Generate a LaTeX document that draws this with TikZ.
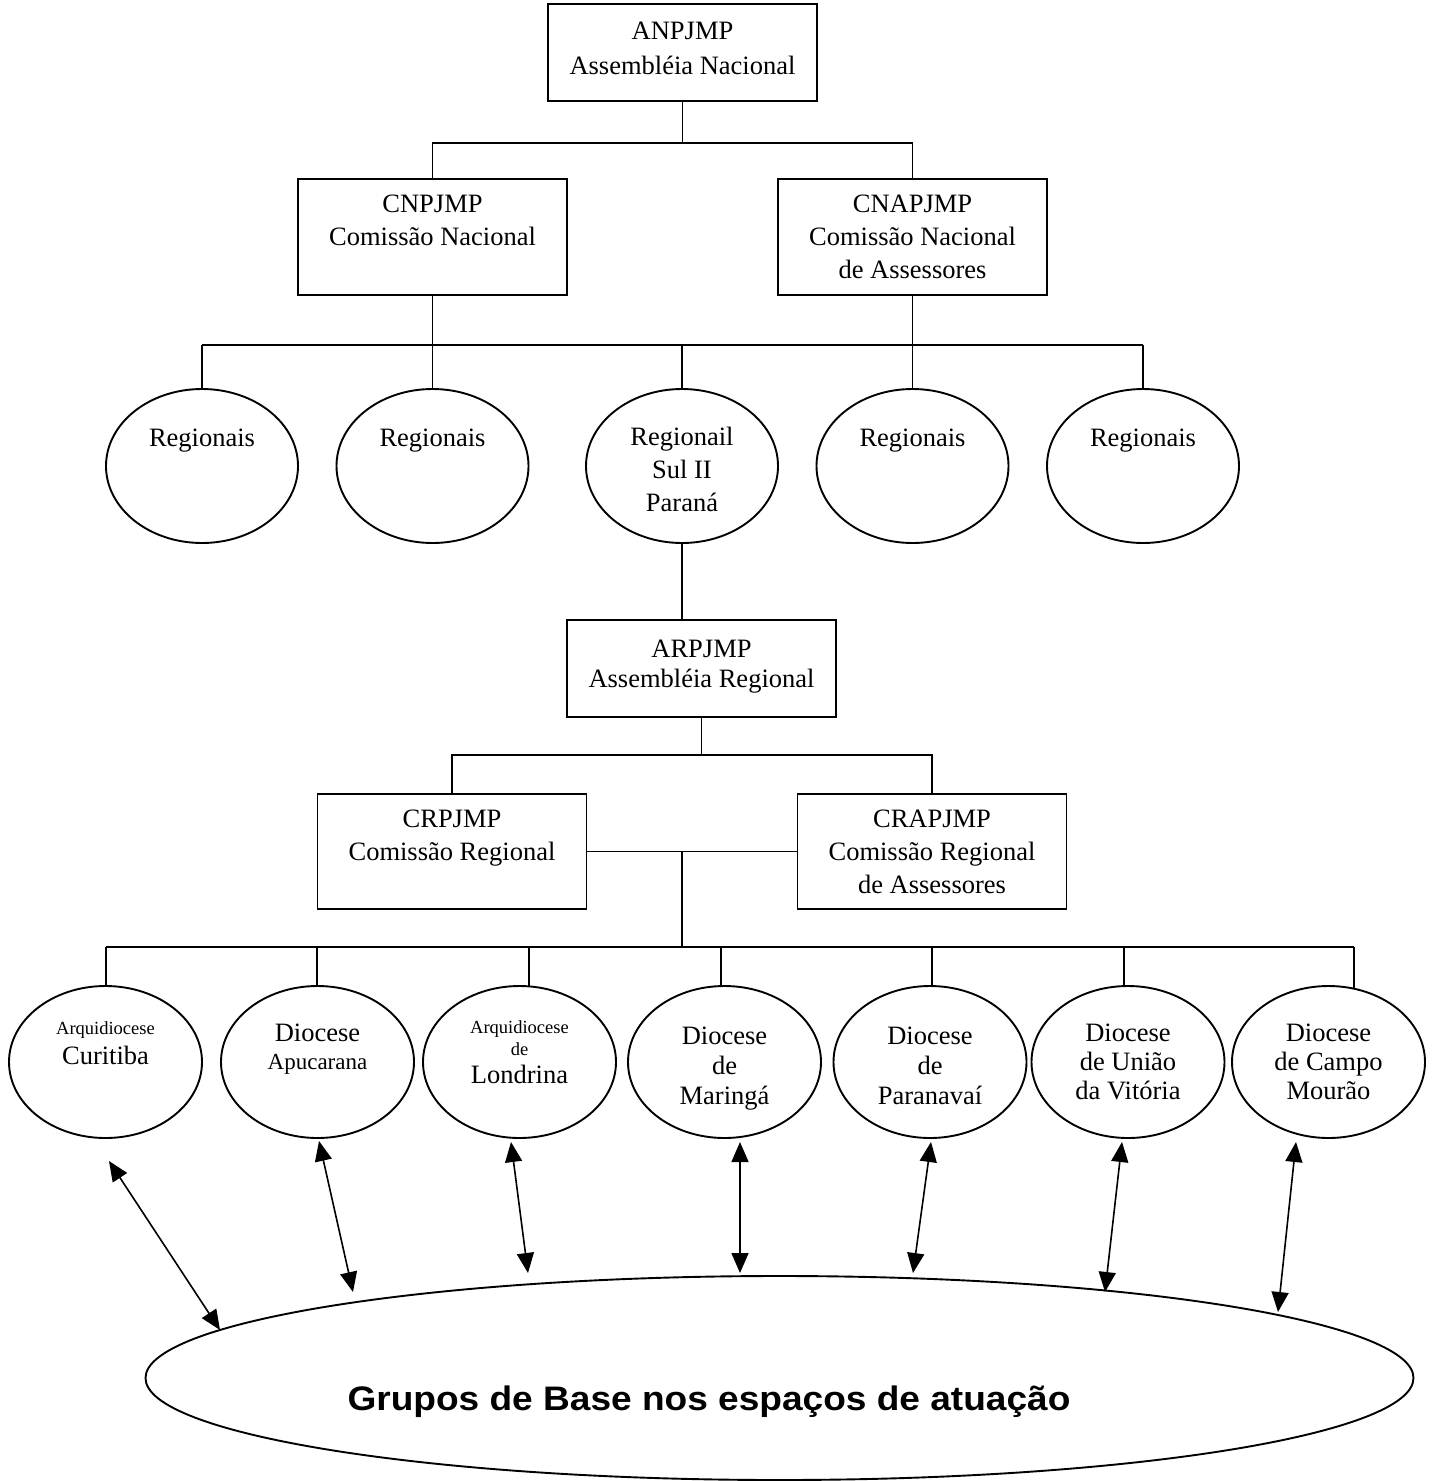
\documentclass[tikz,border=0pt]{standalone}
\usepackage{fontspec}
\setmainfont{Liberation Serif}
\newfontfamily\grupofont[FakeStretch=1.09]{Liberation Sans Bold}
\usetikzlibrary{shapes.geometric,arrows.meta,calc}
\newcommand\smalltxt[1]{{\fontsize{18.5}{20}\selectfont #1}}
\newcommand\firstrule{\rule{0pt}{26pt}}
\begin{document}
\begin{tikzpicture}[x=1pt,y=-1pt,
  every node/.style={font=\fontsize{26.5}{33}\selectfont, align=center, inner sep=0pt},
  box/.style={draw, line width=1.9pt, rectangle, minimum width=269pt},
  ell/.style={draw, line width=1.9pt, ellipse},
  topell/.style={ell, minimum width=192pt, minimum height=154pt},
  botell/.style={ell, minimum width=193pt, minimum height=152pt},
  wire/.style={line width=1.9pt},
  link/.style={line width=1.6pt, {Triangle[length=20pt,width=17pt]}-{Triangle[length=20pt,width=17pt]}}]

\useasboundingbox (0,0) rectangle (1436,1481);
\fill[white] (0,0) rectangle (1436,1481);

% national level
\node[box, minimum height=97pt] (an) at (682.5,52.5) {ANPJMP\\[2pt]Assembléia Nacional\\[-23.5pt]~};
\node[box, minimum height=116pt] (cn) at (432.5,237) {CNPJMP\\Comissão Nacional\\~};
\node[box, minimum height=116pt] (cna) at (912.5,237) {CNAPJMP\\Comissão Nacional\\de Assessores};

% regionals
\node[topell] (r1) at (202,466) {Regionais\\[23pt]~};
\node[topell] (r2) at (432.5,466) {Regionais\\[23pt]~};
\node[topell] (r3) at (682,466) {\firstrule Regionail\\Sul II\\Paraná};
\node[topell] (r4) at (912.5,466) {Regionais\\[23pt]~};
\node[topell] (r5) at (1143,466) {Regionais\\[23pt]~};

% regional level
\node[box, minimum height=97pt] (ar) at (701.5,668.5) {ARPJMP\\[-3pt]Assembléia Regional\\[-22.5pt]~};
\node[box, minimum height=115pt] (cr) at (452,851.5) {CRPJMP\\Comissão Regional\\~};
\node[box, minimum height=115pt] (cra) at (932,851.5) {CRAPJMP\\Comissão Regional\\de Assessores};

% dioceses
\node[botell] (d1) at (105.5,1062) {\smalltxt{Arquidiocese}\\[-3pt]Curitiba\\[5.6pt]~};
\node[botell] (d2) at (317.5,1062) {Diocese\\[-5pt]{\fontsize{23}{25}\selectfont Apucarana}\\[-3pt]~};
\node[botell] (d3) at (519.5,1062) {\smalltxt{Arquidiocese}\\[-11pt]\smalltxt{de}\\[-5pt]Londrina\\[-12.4pt]~};
\node[botell] (d4) at (724.5,1062) {\rule{0pt}{30pt}Diocese\\[-3pt]de\\[-3pt]Maringá};
\node[botell] (d5) at (930,1062) {\rule{0pt}{26pt}Diocese\\[-3pt]de\\[-3pt]Paranavaí};
\node[botell] (d6) at (1128,1062) {Diocese\\[-4pt]de União\\[-4pt]da Vitória};
\node[botell] (d7) at (1328.5,1062) {Diocese\\[-4pt]de Campo\\[-4pt]Mourão};

% base groups
\node[ell, minimum width=1268pt, minimum height=204pt] (gb) at (779.5,1378) {};
\node[anchor=base, font=\grupofont\fontsize{34}{38}\selectfont] (gbt) at (709,1410) {Grupos de Base nos espaços de atuação};

% connectors: national
\coordinate (bus1) at (682.5,143);
\draw[wire] (an.south) -- (bus1);
\draw[wire] (cn.north) -- (cn.north |- bus1) -- (cna.north |- bus1) -- (cna.north);

\coordinate (bus2) at (682,345);
\draw[wire] (cn.south) -- (cn.south |- bus2);
\draw[wire] (cna.south) -- (cna.south |- bus2);
\draw[wire] (r1.north |- bus2) -- (r5.north |- bus2);
\foreach \r in {r1,r2,r3,r4,r5} \draw[wire] (\r.north |- bus2) -- (\r.north);

% connectors: regional
\draw[wire] (r3.south) -- (r3.south |- ar.north);
\coordinate (bus3) at (701.5,755);
\draw[wire] (ar.south) -- (bus3);
\draw[wire] (cr.north) -- (cr.north |- bus3) -- (cra.north |- bus3) -- (cra.north);
\draw[wire] (cr.east) -- (cra.west);
\coordinate (mid) at (682,851.5);
\coordinate (bus4) at (682,947);
\draw[wire] (mid) -- (bus4);

\coordinate (dr1) at (106,947);
\coordinate (dr2) at (317,947);
\coordinate (dr3) at (529,947);
\coordinate (dr4) at (721,947);
\coordinate (dr5) at (932,947);
\coordinate (dr6) at (1124,947);
\coordinate (dr7) at (1354,947);
\draw[wire] (dr1) -- (dr7);
\draw[wire] (dr1) -- (dr1 |- d1.north);
\draw[wire] (dr2) -- (dr2 |- d2.north);
\draw[wire] (dr3) -- (dr3 |- d3.82.8);
\draw[wire] (dr4) -- (dr4 |- d4.north);
\draw[wire] (dr5) -- (dr5 |- d5.north);
\draw[wire] (dr6) -- (dr6 |- d6.north);
\draw[wire] (dr7) -- (dr7 |- d7.70.8);

% two-way arrows
\coordinate (a1t) at (109,1161);  \coordinate (a1b) at (220,1330);
\coordinate (a2t) at (319,1141);  \coordinate (a2b) at (353,1292);
\coordinate (a3t) at (511,1142);  \coordinate (a3b) at (528,1273);
\coordinate (a4t) at (740,1142);  \coordinate (a4b) at (740,1273);
\coordinate (a5t) at (931,1142);  \coordinate (a5b) at (913,1273);
\coordinate (a6t) at (1122,1142); \coordinate (a6b) at (1105,1292);
\coordinate (a7t) at (1296,1142); \coordinate (a7b) at (1278,1312);
\foreach \i in {1,...,7} \draw[link] (a\i t) -- (a\i b);
\end{tikzpicture}
\end{document}
